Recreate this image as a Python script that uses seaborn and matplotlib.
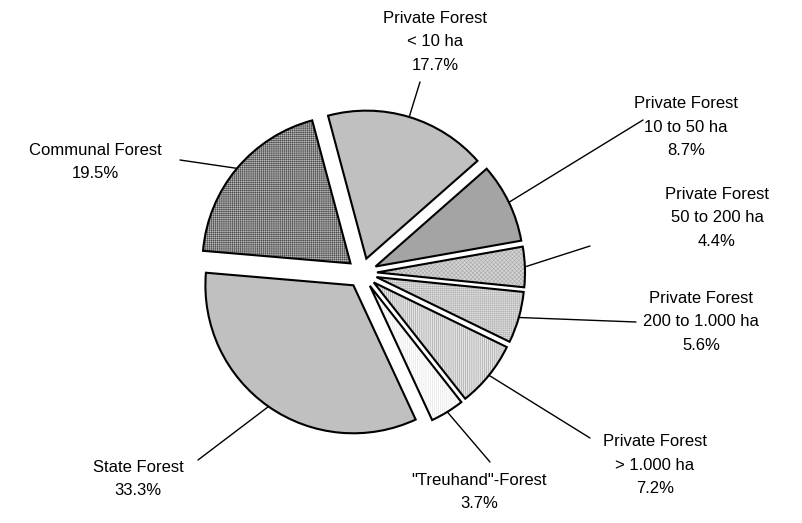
import numpy as np
import seaborn as sns
import matplotlib.pyplot as plt

sns.set_style('white')
plt.rcParams['font.family'] = ['Liberation Sans', 'DejaVu Sans']
plt.rcParams['hatch.linewidth'] = 0.4

categories = ['Private Forest\n< 10 ha', 'Private Forest\n10 to 50 ha', 'Private Forest\n50 to 200 ha',
              'Private Forest\n200 to 1.000 ha', 'Private Forest\n> 1.000 ha', '"Treuhand"-Forest',
              'State Forest', 'Communal Forest']
shares = [17.7, 8.7, 4.4, 5.6, 7.2, 3.7, 33.3, 19.5]

face_colors = ['#c0c0c0', '#a4a4a4', '#d4d4d4', '#e0e0e0', '#e4e4e4', '#ffffff', '#c0c0c0', '#bcbcbc']
hatch_colors = ['#c0c0c0', '#a4a4a4', '#a8a8a8', '#b4b4b4', '#9a9a9a', '#e0e0e0', '#c0c0c0', '#505050']
hatches = ['', '', 'x' * 8, '+' * 8, '|' * 8, '|' * 8, '', '+' * 8]

# label centre (image px) and leader end point (image px)
label_pos = [(435, 42), (686, 127), (717, 218), (701, 322), (655, 465), (479, 492), (138, 479), (95, 162)]
leader_end = [(420, 82), (643, 120), (590, 246), (636, 322), (590, 438), (490, 462), (198, 460), (180, 160)]

W, H = 803, 523
fig = plt.figure(figsize=(W / 100, H / 100), dpi=100)
ax = fig.add_axes([0, 0, 1, 1])

cx, cy, R, expl = 362, H - 273, 148, 15
common = dict(startangle=105, counterclock=False, radius=R, center=(cx, cy), explode=[expl] * len(shares))

fill, _ = ax.pie(shares, colors=face_colors, wedgeprops=dict(linewidth=0), **common)
for w, hc, h in zip(fill, hatch_colors, hatches):
    w.set_edgecolor(hc)
    w.set_hatch(h)
outline, _ = ax.pie(shares, wedgeprops=dict(facecolor='none', edgecolor='black', linewidth=1.5), **common)

for w, cat, val, (lx, ly), (ex, ey) in zip(outline, categories, shares, label_pos, leader_end):
    mid = np.deg2rad((w.theta1 + w.theta2) / 2)
    px = w.center[0] + w.r * np.cos(mid)
    py = w.center[1] + w.r * np.sin(mid)
    ax.plot([px, ex], [py, H - ey], color='black', linewidth=1)
    ax.text(lx, H - ly, f'{cat}\n{val:.1f}%', ha='center', va='center', fontsize=12,
            linespacing=1.7, color='black')

ax.set_xlim(0, W)
ax.set_ylim(0, H)
ax.set_aspect('auto')
ax.axis('off')
fig.savefig('out.png', dpi=100)
